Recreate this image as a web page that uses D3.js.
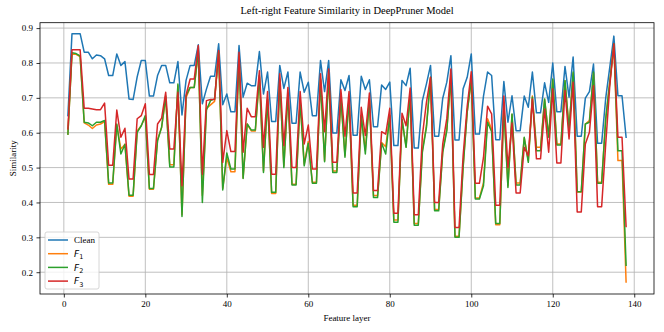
<!DOCTYPE html>
<html>
<head>
<meta charset="utf-8">
<script src="https://cdn.jsdelivr.net/npm/d3@7"></script>
<style>
  body { margin: 0; background: #fff; }
  svg { display: block; }
</style>
</head>
<body>
<svg id="sim-chart"></svg>
<script>
// layer index 1..138
const layers = d3.range(1, 139);

const clean = [0.649,0.884,0.884,0.884,0.831,0.831,0.812,0.823,0.821,0.812,
  0.764,0.764,0.826,0.793,0.804,0.697,0.695,0.760,0.807,0.807,
  0.705,0.705,0.764,0.793,0.793,0.743,0.743,0.804,0.651,0.750,
  0.793,0.793,0.852,0.683,0.725,0.762,0.762,0.855,0.680,0.711,
  0.660,0.660,0.850,0.702,0.742,0.735,0.735,0.833,0.711,0.774,
  0.632,0.632,0.793,0.727,0.774,0.627,0.627,0.774,0.716,0.745,
  0.649,0.649,0.807,0.718,0.807,0.599,0.599,0.752,0.721,0.764,
  0.593,0.593,0.762,0.724,0.752,0.617,0.617,0.737,0.724,0.745,
  0.563,0.563,0.750,0.735,0.785,0.556,0.556,0.692,0.740,0.793,
  0.590,0.590,0.699,0.745,0.821,0.579,0.579,0.726,0.759,0.826,
  0.596,0.596,0.705,0.774,0.764,0.580,0.580,0.747,0.630,0.706,
  0.606,0.606,0.705,0.673,0.774,0.657,0.657,0.743,0.687,0.800,
  0.660,0.660,0.790,0.702,0.817,0.590,0.590,0.699,0.718,0.797,
  0.570,0.570,0.699,0.788,0.877,0.706,0.706,0.587];

const f1 = [0.596,0.826,0.825,0.818,0.628,0.622,0.612,0.622,0.625,0.632,
  0.452,0.452,0.622,0.553,0.567,0.418,0.418,0.605,0.620,0.645,
  0.438,0.438,0.580,0.615,0.700,0.508,0.508,0.735,0.365,0.700,
  0.730,0.730,0.830,0.420,0.670,0.680,0.690,0.830,0.440,0.529,
  0.488,0.488,0.820,0.470,0.625,0.605,0.605,0.760,0.490,0.695,
  0.426,0.426,0.750,0.505,0.710,0.452,0.452,0.690,0.510,0.575,
  0.458,0.458,0.750,0.520,0.765,0.490,0.490,0.700,0.535,0.695,
  0.392,0.392,0.650,0.550,0.695,0.420,0.420,0.572,0.560,0.650,
  0.350,0.350,0.638,0.560,0.710,0.340,0.340,0.550,0.620,0.755,
  0.380,0.380,0.548,0.610,0.760,0.303,0.303,0.505,0.660,0.750,
  0.413,0.413,0.457,0.640,0.610,0.336,0.336,0.675,0.448,0.652,
  0.456,0.456,0.585,0.520,0.705,0.558,0.558,0.695,0.590,0.752,
  0.568,0.568,0.748,0.612,0.770,0.430,0.430,0.625,0.635,0.770,
  0.458,0.458,0.640,0.745,0.850,0.520,0.520,0.172];

const f2 = [0.596,0.829,0.827,0.820,0.630,0.628,0.620,0.630,0.630,0.635,
  0.456,0.456,0.625,0.539,0.567,0.421,0.421,0.601,0.620,0.649,
  0.440,0.440,0.577,0.616,0.705,0.502,0.502,0.740,0.360,0.706,
  0.730,0.730,0.836,0.400,0.665,0.692,0.697,0.831,0.436,0.542,
  0.496,0.496,0.821,0.469,0.625,0.608,0.608,0.764,0.486,0.697,
  0.429,0.429,0.754,0.500,0.714,0.450,0.450,0.692,0.505,0.570,
  0.455,0.455,0.754,0.517,0.769,0.486,0.486,0.702,0.530,0.697,
  0.388,0.388,0.649,0.539,0.697,0.414,0.414,0.570,0.539,0.649,
  0.343,0.343,0.639,0.558,0.711,0.335,0.335,0.544,0.615,0.759,
  0.376,0.376,0.544,0.606,0.764,0.300,0.300,0.500,0.659,0.754,
  0.410,0.410,0.448,0.630,0.603,0.340,0.340,0.673,0.443,0.654,
  0.450,0.450,0.587,0.515,0.702,0.548,0.548,0.697,0.587,0.754,
  0.565,0.565,0.750,0.610,0.774,0.431,0.431,0.625,0.630,0.774,
  0.455,0.455,0.639,0.745,0.855,0.548,0.548,0.220];

const f3 = [0.611,0.838,0.838,0.838,0.670,0.670,0.668,0.666,0.666,0.685,
  0.507,0.507,0.665,0.587,0.613,0.467,0.467,0.640,0.649,0.683,
  0.480,0.480,0.625,0.642,0.716,0.553,0.553,0.716,0.448,0.708,
  0.754,0.754,0.850,0.481,0.692,0.695,0.695,0.836,0.515,0.606,
  0.546,0.546,0.831,0.544,0.670,0.646,0.646,0.778,0.558,0.718,
  0.481,0.481,0.769,0.563,0.730,0.500,0.500,0.718,0.568,0.622,
  0.496,0.496,0.769,0.603,0.783,0.515,0.515,0.724,0.590,0.718,
  0.427,0.427,0.673,0.592,0.714,0.434,0.434,0.603,0.596,0.670,
  0.369,0.369,0.656,0.620,0.728,0.365,0.365,0.592,0.687,0.759,
  0.400,0.400,0.568,0.641,0.783,0.328,0.328,0.534,0.676,0.775,
  0.455,0.455,0.529,0.676,0.654,0.392,0.392,0.705,0.500,0.628,
  0.427,0.427,0.558,0.534,0.697,0.525,0.525,0.668,0.544,0.726,
  0.513,0.513,0.721,0.582,0.745,0.373,0.373,0.568,0.601,0.735,
  0.388,0.388,0.568,0.735,0.855,0.587,0.587,0.331];

const seriesNames = ["Clean", "F1", "F2", "F3"];
const seriesColors = ["#1f77b4", "#ff7f0e", "#2ca02c", "#d62728"];
const xTicks = [0, 20, 40, 60, 80, 100, 120, 140];
const yTicks = [0.2, 0.3, 0.4, 0.5, 0.6, 0.7, 0.8, 0.9];

const W = 664, H = 332;
const margin = { top: 22.7, right: 10, bottom: 38, left: 40 };
const w = W - margin.left - margin.right;
const h = H - margin.top - margin.bottom;
const serif = "'Liberation Serif', 'Times New Roman', serif";

const svg = d3.select("#sim-chart")
    .attr("width", W)
    .attr("height", H);

const g = svg.append("g")
    .attr("transform", `translate(${margin.left},${margin.top})`);

// matplotlib style 5% margins
const xScale = d3.scaleLinear().domain([-5.85, 144.85]).range([0, w]);
const yScale = d3.scaleLinear().domain([0.1375, 0.9155]).range([h, 0]);

// grid
g.append("g").selectAll("line").data(xTicks).enter().append("line")
    .attr("x1", d => xScale(d)).attr("x2", d => xScale(d))
    .attr("y1", 0).attr("y2", h)
    .attr("stroke", "#b0b0b0").attr("stroke-width", 0.8);
g.append("g").selectAll("line").data(yTicks).enter().append("line")
    .attr("x1", 0).attr("x2", w)
    .attr("y1", d => yScale(d)).attr("y2", d => yScale(d))
    .attr("stroke", "#b0b0b0").attr("stroke-width", 0.8);

// lines
const allSeries = [clean, f1, f2, f3];
const line = d3.line()
    .x((d, i) => xScale(layers[i]))
    .y(d => yScale(d));

allSeries.forEach((s, k) => {
    g.append("path")
        .datum(s)
        .attr("d", line)
        .attr("fill", "none")
        .attr("stroke", seriesColors[k])
        .attr("stroke-width", 1.5)
        .attr("stroke-linejoin", "round")
        .attr("stroke-linecap", "square");
});

// axes
const xAxis = g.append("g")
    .attr("transform", `translate(0,${h})`)
    .call(d3.axisBottom(xScale).tickValues(xTicks).tickSize(3.5).tickPadding(3.5).tickSizeOuter(0));
const yAxis = g.append("g")
    .call(d3.axisLeft(yScale).tickValues(yTicks).tickSize(3.5).tickPadding(3.5).tickSizeOuter(0)
        .tickFormat(d3.format(".1f")));
[xAxis, yAxis].forEach(a => {
    a.select(".domain").remove();
    a.selectAll("text").style("font-family", serif).style("font-size", "9px").attr("fill", "#000");
    a.selectAll("line").attr("stroke", "#000").attr("stroke-width", 0.8);
});

// frame
g.append("rect")
    .attr("width", w).attr("height", h)
    .attr("fill", "none").attr("stroke", "#000").attr("stroke-width", 0.8);

// title + labels
svg.append("text")
    .attr("x", margin.left + w / 2).attr("y", 14)
    .attr("text-anchor", "middle")
    .style("font-family", serif).style("font-size", "10.5px")
    .text("Left-right Feature Similarity in DeepPruner Model");

svg.append("text")
    .attr("x", margin.left + w / 2).attr("y", 321)
    .attr("text-anchor", "middle")
    .style("font-family", serif).style("font-size", "9px")
    .text("Feature layer");

svg.append("text")
    .attr("transform", `translate(16,${margin.top + h / 2}) rotate(-90)`)
    .attr("text-anchor", "middle")
    .style("font-family", serif).style("font-size", "9px")
    .text("Similarity");

// legend
const legend = g.append("g")
    .attr("transform", `translate(5,${h - 62})`);

legend.append("rect")
    .attr("width", 54).attr("height", 57)
    .attr("rx", 2)
    .attr("fill", "#fff").attr("fill-opacity", 0.8)
    .attr("stroke", "#ccc").attr("stroke-width", 0.8);

const items = legend.selectAll(".legend-item")
    .data(seriesNames)
    .enter().append("g")
    .attr("class", "legend-item")
    .attr("transform", (d, i) => `translate(0,${8 + i * 13.7})`);

items.append("line")
    .attr("x1", 3).attr("x2", 23)
    .attr("stroke", (d, i) => seriesColors[i])
    .attr("stroke-width", 1.5);

items.each(function(d) {
    const t = d3.select(this).append("text")
        .attr("x", 29).attr("y", 3.2)
        .style("font-size", "9px");
    if (d === "Clean") {
        t.style("font-family", serif).text(d);
    } else {
        t.append("tspan").style("font-family", "'DejaVu Sans', sans-serif")
            .style("font-style", "italic").text("F");
        t.append("tspan").style("font-family", "'DejaVu Sans', sans-serif")
            .attr("dy", 2.5).style("font-size", "6.5px").text(d.slice(1));
    }
});
</script>
</body>
</html>
